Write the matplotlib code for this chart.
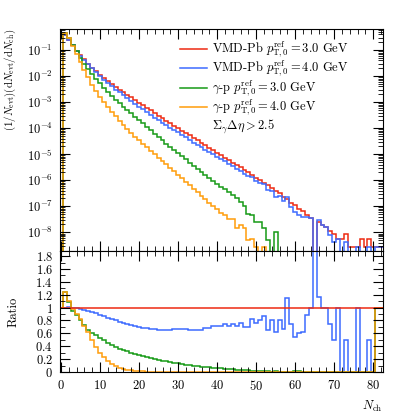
import numpy as np
import matplotlib.pyplot as plt
from matplotlib.ticker import MultipleLocator, LogLocator, FuncFormatter, NullFormatter

plt.rcParams['font.family'] = 'serif'
plt.rcParams['font.serif'] = ['cmr10']
plt.rcParams['mathtext.fontset'] = 'cm'
plt.rcParams['axes.formatter.use_mathtext'] = True
plt.rcParams['axes.unicode_minus'] = False
plt.rcParams['font.size'] = 9

# bins: Nch = 0 .. 82, unit width
edges = np.arange(-0.5, 83.0, 1.0)

# log10 of (1/Nevt) dN/dNch, reference VMD-Pb pT0ref = 3.0 GeV  (None = empty bin)
red_log = [None,
           -0.42, -0.6, -0.82, -1.02, -1.2, -1.36, -1.52, -1.67, -1.82, -1.96,
           -2.08, -2.2, -2.31, -2.42, -2.52, -2.62, -2.72, -2.82, -2.92, -3.02,
           -3.12, -3.22, -3.32, -3.42, -3.52, -3.61, -3.71, -3.8, -3.9, -3.99,
           -4.09, -4.18, -4.28, -4.37, -4.47, -4.56, -4.66, -4.75, -4.85, -4.94,
           -5.04, -5.13, -5.23, -5.32, -5.42, -5.51, -5.61, -5.7, -5.8, -5.9,
           -6.0, -6.1, -6.2, -6.3, -6.42, -6.5, -6.64, -6.72, -6.88, -6.96,
           -7.1, -7.2, -7.34, -7.45, -9.8, -7.6, -7.72, -7.8, -7.96, -8.08,
           -8.26, -8.26, -8.08, -8.56, -8.56, -8.56, -8.26, -8.56, -8.26, -8.56,
           -8.56, -8.56]

# ratio VMD-Pb 4.0 GeV / VMD-Pb 3.0 GeV
blue_ratio = [1.0,
              1.0, 1.01, 1.0, 0.99, 0.98, 0.97, 0.95, 0.93, 0.91, 0.89,
              0.87, 0.84, 0.82, 0.8, 0.78, 0.76, 0.74, 0.73, 0.71, 0.7,
              0.69, 0.68, 0.67, 0.67, 0.66, 0.65, 0.66, 0.66, 0.67, 0.67,
              0.67, 0.67, 0.66, 0.66, 0.66, 0.66, 0.69, 0.68, 0.71, 0.71,
              0.71, 0.74, 0.72, 0.74, 0.72, 0.76, 0.7, 0.7, 0.82, 0.76,
              0.8, 0.87, 0.66, 0.8, 0.62, 0.8, 0.67, 1.15, 0.74, 0.55,
              0.6, 0.62, 0.88, 1.0, 2.5, 1.17, 1.0, 1.0, 0.75, 0.5,
              1.0, 0.0, 0.5, 0.0, 0.0, 1.0, 0.0, 0.0, 0.5, 0.0,
              1.0, 1.0]

# log10 of gamma-p 3.0 GeV
green_log = [None,
             -0.35, -0.55, -0.8, -1.05, -1.3, -1.52, -1.74, -1.93, -2.1, -2.27,
             -2.44, -2.6, -2.75, -2.9, -3.04, -3.17, -3.3, -3.43, -3.56, -3.69,
             -3.82, -3.95, -4.08, -4.21, -4.34, -4.47, -4.6, -4.72, -4.84, -4.96,
             -5.08, -5.2, -5.32, -5.44, -5.56, -5.68, -5.8, -5.91, -6.02, -6.13,
             -6.24, -6.35, -6.46, -6.57, -6.7, -6.82, -7.0, -7.3, -7.35, -7.6,
             -7.6, -7.85, -8.3, None, -8.0, None, None, None, None, None,
             None, None, None, None, None, None, None, None, None, None,
             None, None, None, None, None, None, None, None, None, None,
             None, None]

# log10 of gamma-p 4.0 GeV
orange_log = [None,
              -0.33, -0.55, -0.85, -1.15, -1.45, -1.75, -2.05, -2.33, -2.58, -2.8,
              -3.0, -3.2, -3.38, -3.55, -3.72, -3.88, -4.03, -4.18, -4.32, -4.45,
              -4.59, -4.72, -4.86, -4.99, -5.13, -5.26, -5.39, -5.53, -5.66, -5.8,
              -5.93, -6.06, -6.2, -6.33, -6.47, -6.6, -6.73, -6.86, -6.99, -7.12,
              -7.25, -7.35, -7.5, -7.5, -7.85, -7.7, -7.85, -8.3, -8.25, -8.56,
              None, -8.56, None, None, None, None, None, None, None, None,
              None, None, None, None, None, None, None, None, None, None,
              None, None, None, None, None, None, None, None, None, None,
              None, None]

green_ratio = [1.0,
               1.25, 1.08, 0.95, 0.88, 0.8, 0.73, 0.66, 0.61, 0.57, 0.53,
               0.49, 0.45, 0.42, 0.39, 0.36, 0.34, 0.32, 0.3, 0.28, 0.26,
               0.245, 0.23, 0.215, 0.2, 0.19, 0.175, 0.165, 0.155, 0.145, 0.135,
               0.125, 0.115, 0.108, 0.1, 0.092, 0.085, 0.078, 0.072, 0.066, 0.06,
               0.055, 0.05, 0.045, 0.04, 0.036, 0.032, 0.028, 0.025, 0.022, 0.02,
               0.018, 0.015, 0.013, 0.0, 0.012, 0.0, 0.0, 0.0, 0.0, 0.01,
               0.01, 0.0, 0.0, 0.0, 0.0, 0.0, 0.0, 0.0, 0.0, 0.0,
               0.0, 0.0, 0.0, 0.0, 0.0, 0.0, 0.0, 0.0, 0.0, 0.0,
               1.0, 1.0]

orange_ratio = [1.0,
                1.25, 1.11, 0.98, 0.9, 0.82, 0.72, 0.62, 0.5, 0.39, 0.3,
                0.23, 0.17, 0.125, 0.09, 0.065, 0.047, 0.034, 0.025, 0.018, 0.013,
                0.009, 0.007, 0.005, 0.004, 0.003, 0.002, 0.0015, 0.001, 0.001, 0.0008,
                0.0006, 0.0005, 0.0004, 0.0003, 0.0002, 0.0002, 0.0001, 0.0001, 0.0, 0.0,
                0.0, 0.0, 0.0, 0.0, 0.0, 0.0, 0.0, 0.0, 0.0, 0.0,
                0.0, 0.0, 0.0, 0.0, 0.0, 0.0, 0.0, 0.0, 0.0, 0.0,
                0.0, 0.0, 0.0, 0.0, 0.0, 0.0, 0.0, 0.0, 0.0, 0.0,
                0.0, 0.0, 0.0, 0.0, 0.0, 0.0, 0.0, 0.0, 0.0, 0.0,
                1.0, 1.0]

labels = [r'VMD-Pb $p_{\mathrm{T},0}^{\mathrm{ref}} = 3.0$ GeV',
          r'VMD-Pb $p_{\mathrm{T},0}^{\mathrm{ref}} = 4.0$ GeV',
          r'$\gamma$-p $p_{\mathrm{T},0}^{\mathrm{ref}} = 3.0$ GeV',
          r'$\gamma$-p $p_{\mathrm{T},0}^{\mathrm{ref}} = 4.0$ GeV',
          r'$\Sigma_{\gamma}\Delta\eta > 2.5$']
colors = ['#ee2a12', '#3d6bff', '#169a16', '#ff9d0a', None]


def unlog(vals):
    return np.array([0.0 if v is None else 10.0 ** v for v in vals])


red = unlog(red_log)
blue = red * np.array(blue_ratio)
green = unlog(green_log)
orange = unlog(orange_log)

fig = plt.figure(figsize=(3.99, 4.13), dpi=100)
ax1 = fig.add_axes([0.150, 0.392, 0.810, 0.538])
ax2 = fig.add_axes([0.150, 0.0993, 0.810, 0.293], sharex=ax1)

lw = 1.1
ax1.set_yscale('log')
for vals, c in zip([red, blue, green, orange], colors):
    ax1.stairs(vals, edges, baseline=None, color=c, lw=lw)

for vals, c in zip([blue_ratio, green_ratio, orange_ratio], colors[1:4]):
    ax2.stairs(vals, edges, baseline=None, color=c, lw=lw)
ax2.stairs(np.ones(len(red)), edges, baseline=None, color=colors[0], lw=lw)

ax1.set_xlim(-0.3, 82.5)
ax1.set_ylim(1.9e-9, 0.65)
ax2.set_ylim(0, 1.88)

for ax in (ax1, ax2):
    ax.tick_params(which='both', direction='in', top=True, right=True, labelsize=9, pad=5)
    ax.tick_params(which='major', length=7)
    ax.tick_params(which='minor', length=3.5)
    ax.xaxis.set_major_locator(MultipleLocator(10))
    ax.xaxis.set_minor_locator(MultipleLocator(2))
ax1.tick_params(labelbottom=False)
ax1.yaxis.set_major_locator(LogLocator(base=10, numticks=20))
ax1.yaxis.set_minor_locator(LogLocator(base=10, subs=np.arange(2, 10), numticks=20))
ax1.yaxis.set_minor_formatter(NullFormatter())
ax2.yaxis.set_major_locator(MultipleLocator(0.2))
ax2.yaxis.set_minor_locator(MultipleLocator(0.1))
ax2.yaxis.set_major_formatter(FuncFormatter(lambda v, p: r'$\mathdefault{%g}$' % round(v, 2)))

ax1.set_ylabel(r'$(1/N_{\mathrm{evt}})(\mathrm{d}N_{\mathrm{evt}}/\mathrm{d}N_{\mathrm{ch}})$',
               loc='top', fontsize=7.8)
ax1.yaxis.set_label_coords(-0.13, 1.0)
ax2.set_ylabel('Ratio', fontsize=9)
ax2.yaxis.set_label_coords(-0.125, 0.5)
ax2.set_xlabel(r'$N_{\mathrm{ch}}$', loc='right', fontsize=9)

# legend drawn by hand, rows in axes fractions
row_y = [0.910, 0.823, 0.735, 0.648, 0.563]
for lab, c, y in zip(labels, colors, row_y):
    if c is not None:
        ax1.plot([0.372, 0.455], [y, y], color=c, lw=lw, transform=ax1.transAxes)
    ax1.text(0.471, y, lab, transform=ax1.transAxes, ha='left', va='center', fontsize=9)

fig.savefig('out.png', dpi=100)
